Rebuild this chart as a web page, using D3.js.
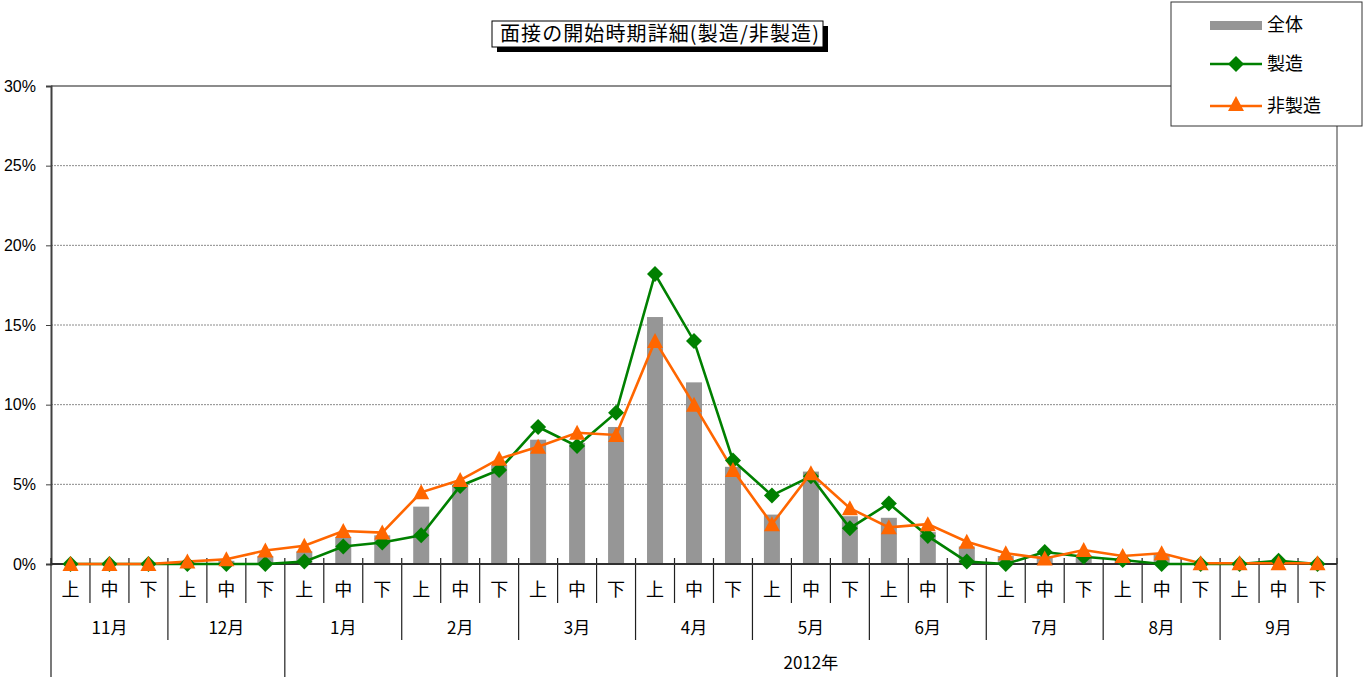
<!DOCTYPE html>
<html><head><meta charset="utf-8">
<script src="https://cdn.jsdelivr.net/npm/d3@7"></script>
<style>
html,body{margin:0;padding:0;background:#fff;}
svg{display:block;}
</style></head>
<body>
<svg id="chart" width="1372" height="677"></svg>
<script>
const months = ["11月","12月","1月","2月","3月","4月","5月","6月","7月","8月","9月"];
const periods = ["上","中","下"];
const yearLabel = "2012年";
const yearStartMonth = 2; // index of 1月
const title = "面接の開始時期詳細(製造/非製造)";
const seriesNames = ["全体","製造","非製造"];
const total = [0,0,0,0.1,0.2,0.5,0.8,1.7,1.8,3.6,5.0,6.2,7.8,7.6,8.6,15.5,11.4,6.1,3.1,5.8,3.0,2.9,2.0,1.1,0.5,0.5,0.55,0.3,0.6,0.05,0.1,0.1,0.05];
const manu = [0,0,0,0,0,0,0.15,1.1,1.35,1.8,4.9,5.9,8.6,7.4,9.5,18.2,14.0,6.5,4.3,5.5,2.25,3.8,1.75,0.15,0,0.75,0.45,0.25,0,0,0,0.2,0];
const nonmanu = [0,0,0,0.15,0.3,0.85,1.15,2.07,1.97,4.5,5.27,6.6,7.36,8.24,8.1,14.0,10.0,5.9,2.5,5.7,3.5,2.3,2.5,1.4,0.67,0.35,0.88,0.5,0.67,0.05,0.05,0.05,0.05];
const yTicks = [0,5,10,15,20,25,30];

const categories = [];
months.forEach((m,mi)=>periods.forEach((p,pi)=>categories.push({id:mi*3+pi, month:m, period:p})));

const svg = d3.select("#chart");
const L = 51, R = 1337, T = 86, B = 564;
const x = d3.scaleBand().domain(categories.map(d=>d.id)).range([L,R]).paddingInner(0).paddingOuter(0);
const y = d3.scaleLinear().domain([0,30]).range([B,T]);
const jp = "'Noto Sans CJK JP','Noto Sans',sans-serif";
const num = "'Liberation Sans',Arial,sans-serif";

// gridlines
svg.append("g").selectAll("line").data(yTicks.filter(t=>t>0 && t<30)).join("line")
  .attr("x1",L).attr("x2",R).attr("y1",d=>y(d)).attr("y2",d=>y(d))
  .attr("stroke","#8a8a8a").attr("stroke-width",1).attr("stroke-dasharray","2,1");
// top border & right border
svg.append("line").attr("x1",L).attr("x2",R).attr("y1",y(30)).attr("y2",y(30)).attr("stroke","#8c8c8c").attr("stroke-width",2);
svg.append("line").attr("x1",R).attr("x2",R).attr("y1",T).attr("y2",B).attr("stroke","#9a9a9a").attr("stroke-width",2);

// y axis
const yAxis = d3.axisLeft(y).tickValues(yTicks).tickFormat(d=>d+"%").tickSize(5).tickPadding(10);
const yg = svg.append("g").attr("transform",`translate(${L},0)`).call(yAxis);
yg.select(".domain").attr("stroke","#404040").attr("stroke-width",2);
yg.selectAll(".tick line").attr("stroke","#404040");
yg.selectAll("text").attr("font-family",num).attr("font-size",16).attr("fill","#000");

// bars
const bw = 16;
svg.append("g").selectAll("rect").data(total).join("rect")
  .attr("x",(d,i)=>x(i)+x.bandwidth()/2-bw/2).attr("width",bw)
  .attr("y",d=>y(d)).attr("height",d=>B-y(d)).attr("fill","#969696");

// category separators
const sepG = svg.append("g").attr("stroke","#202020").attr("stroke-width",1.2);
for(let i=0;i<=categories.length;i++){
  const xx = i<categories.length ? x(i) : R;
  let y2 = 603;
  if(i%3===0) y2 = 640;
  if(i===0 || i===yearStartMonth*3 || i===categories.length) y2 = 677;
  sepG.append("line").attr("x1",xx).attr("x2",xx).attr("y1",558).attr("y2",y2);
}
// x axis line
svg.append("line").attr("x1",L).attr("x2",R).attr("y1",B).attr("y2",B).attr("stroke","#303030").attr("stroke-width",2);

// period labels
svg.append("g").selectAll("text").data(categories).join("text")
  .attr("x",d=>x(d.id)+x.bandwidth()/2).attr("y",590).attr("dy","0.36em")
  .attr("text-anchor","middle").attr("font-family",jp).attr("font-size",18).text(d=>d.period);
// month labels
svg.append("g").selectAll("text").data(months).join("text")
  .attr("x",(d,i)=>(x(i*3)+ (i*3+3<categories.length? x(i*3+3):R))/2).attr("y",628).attr("dy","0.36em")
  .attr("text-anchor","middle").attr("font-family",jp).attr("font-size",17).text(d=>d);
// year label
svg.append("text").attr("x",(x(yearStartMonth*3)+R)/2).attr("y",663).attr("dy","0.36em")
  .attr("text-anchor","middle").attr("font-family",jp).attr("font-size",17).text(yearLabel);

// lines
const lineGen = d3.line().x((d,i)=>x(i)+x.bandwidth()/2).y(d=>y(d));
const green = "#008000", orange = "#FF6600";
svg.append("path").datum(manu).attr("d",lineGen).attr("fill","none").attr("stroke",green).attr("stroke-width",2.6);
svg.append("path").datum(nonmanu).attr("d",lineGen).attr("fill","none").attr("stroke",orange).attr("stroke-width",2.6);
const diamond = "M0,-8L8,0L0,8L-8,0Z";
const tri = "M0,-8L8,7L-8,7Z";
svg.append("g").selectAll("path").data(manu).join("path")
  .attr("transform",(d,i)=>`translate(${x(i)+x.bandwidth()/2},${y(d)})`).attr("d",diamond).attr("fill",green);
svg.append("g").selectAll("path").data(nonmanu).join("path")
  .attr("transform",(d,i)=>`translate(${x(i)+x.bandwidth()/2},${y(d)})`).attr("d",tri).attr("fill",orange);

// title
const tg = svg.append("g");
tg.append("rect").attr("x",497).attr("y",26).attr("width",331).attr("height",26).attr("fill","#000");
tg.append("rect").attr("x",492).attr("y",21).attr("width",331).attr("height",26).attr("fill","#fff").attr("stroke","#000").attr("stroke-width",1);
tg.append("text").attr("x",660).attr("y",34).attr("dy","0.36em").attr("text-anchor","middle")
  .attr("font-family",jp).attr("font-size",20).attr("letter-spacing","1.1px").text(title);

// legend
const lg = svg.append("g");
lg.append("rect").attr("x",1171).attr("y",2).attr("width",191).attr("height",124).attr("fill","#fff").attr("stroke","#333").attr("stroke-width",1);
lg.append("rect").attr("x",1210).attr("y",21).attr("width",52).attr("height",9).attr("fill","#969696");
lg.append("line").attr("x1",1210).attr("x2",1262).attr("y1",64).attr("y2",64).attr("stroke",green).attr("stroke-width",2.5);
lg.append("path").attr("transform","translate(1236,64)").attr("d",diamond).attr("fill",green);
lg.append("line").attr("x1",1210).attr("x2",1262).attr("y1",106).attr("y2",106).attr("stroke",orange).attr("stroke-width",2.5);
lg.append("path").attr("transform","translate(1236,104)").attr("d",tri).attr("fill",orange);
const legY = [25,64,106];
lg.selectAll("text.leg").data(seriesNames).join("text").attr("class","leg")
  .attr("x",1267).attr("y",(d,i)=>legY[i]).attr("dy","0.36em")
  .attr("font-family",jp).attr("font-size",18).text(d=>d);
</script>
</body></html>
